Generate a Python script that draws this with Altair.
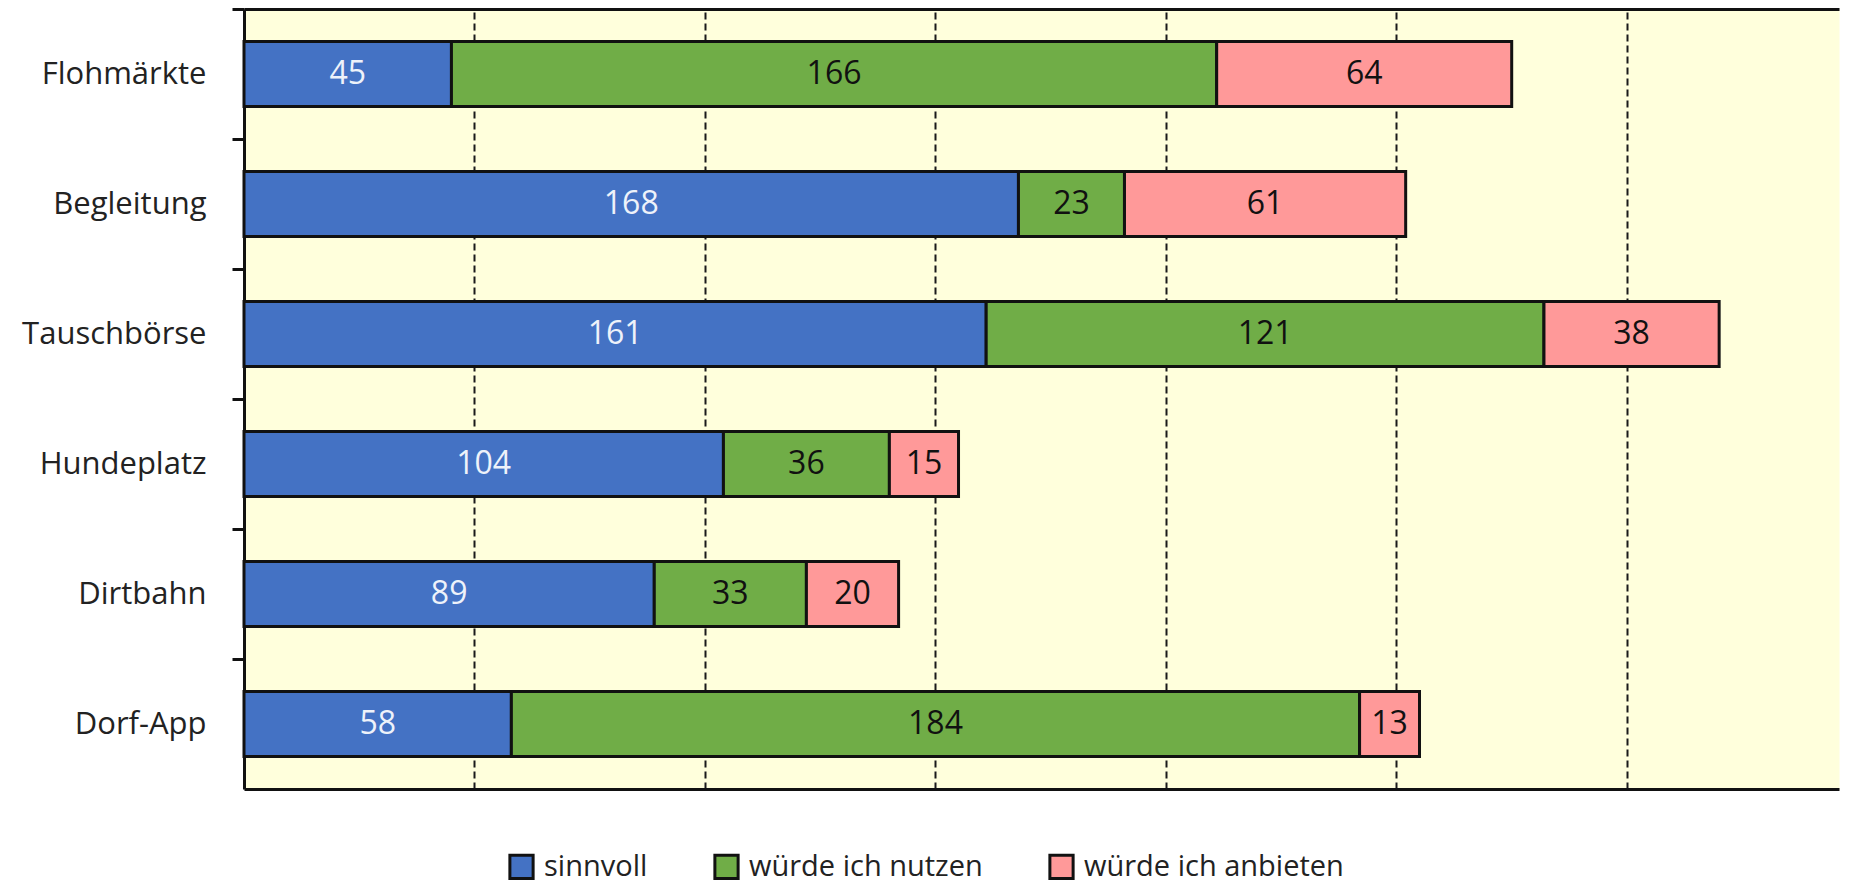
import altair as alt
import pandas as pd

categories = ["Flohmärkte", "Begleitung", "Tauschbörse", "Hundeplatz", "Dirtbahn", "Dorf-App"]
series = ["sinnvoll", "würde ich nutzen", "würde ich anbieten"]
sinnvoll = [45, 168, 161, 104, 89, 58]
nutzen = [166, 23, 121, 36, 33, 184]
anbieten = [64, 61, 38, 15, 20, 13]
colors = ["#4472C4", "#70AD47", "#FF9999"]
grid_values = [50, 100, 150, 200, 250, 300]

rows = []
for i, c in enumerate(categories):
    for j, vals in enumerate([sinnvoll, nutzen, anbieten]):
        rows.append({"Kategorie": c, "Serie": series[j], "Wert": vals[i], "idx": j})
df = pd.DataFrame(rows)

FONT = "Open Sans"
W, H = 1595, 780

base = alt.Chart(df).transform_stack(
    stack="Wert", groupby=["Kategorie"], sort=[alt.SortField("idx")], as_=["x0", "x1"]
).transform_calculate(mid="(datum.x0 + datum.x1) / 2")

xscale = alt.Scale(domain=[0, 346], nice=False, zero=True)
yenc = alt.Y(
    "Kategorie:N",
    sort=categories,
    scale=alt.Scale(paddingInner=0.5, paddingOuter=0.25),
    axis=alt.Axis(
        title=None, bandPosition=0, tickOffset=-32.5, labelOffset=32.5,
        tickSize=12, tickWidth=3, tickColor="#111", domainColor="#111", domainWidth=3,
        labelFont=FONT, labelFontSize=31, labelColor="#222", labelPadding=26, labelLimit=500,
    ),
)

bars = base.mark_bar(stroke="#111", strokeWidth=3).encode(
    x=alt.X(
        "x0:Q", scale=xscale,
        axis=alt.Axis(
            title=None, values=grid_values, labels=False, ticks=False, grid=True,
            gridDash=[7, 4], gridColor="#1a1a1a", gridWidth=2,
            domainColor="#111", domainWidth=3,
        ),
    ),
    x2="x1:Q",
    y=yenc,
    color=alt.Color(
        "Serie:N", sort=series, scale=alt.Scale(domain=series, range=colors),
        legend=alt.Legend(
            title=None, orient="none", legendX=263, legendY=843, direction="horizontal",
            symbolType="square", symbolSize=540, symbolStrokeColor="#111", symbolStrokeWidth=3,
            symbolOpacity=1, labelFont=FONT, labelFontSize=29, labelColor="#222",
            columnPadding=60, labelOffset=8, padding=0, labelLimit=600,
        ),
    ),
    order=alt.Order("idx:Q"),
)

labels = base.mark_text(font=FONT, fontSize=32).encode(
    x=alt.X(
        "mid:Q", scale=xscale,
        axis=alt.Axis(orient="top", title=None, labels=False, ticks=False, grid=False,
                      domainColor="#111", domainWidth=3),
    ),
    y=alt.Y("Kategorie:N", sort=categories),
    text=alt.Text("Wert:Q"),
    color=alt.condition("datum.idx == 0", alt.value("#EEF2FA"), alt.value("#111111")),
)

chart = alt.layer(bars, labels).resolve_axis(x="independent").properties(
    width=W, height=H,
    autosize=alt.AutoSizeParams(type="none"),
    padding={"left": 236, "top": 1, "right": 4, "bottom": 96},
    view=alt.ViewBackground(fill="#FFFFDC", strokeOpacity=0),
).configure_view(fill="#FFFFDC", strokeOpacity=0).configure(background="white")

chart.save("out.html", embed_options={"renderer": "svg", "actions": False})
